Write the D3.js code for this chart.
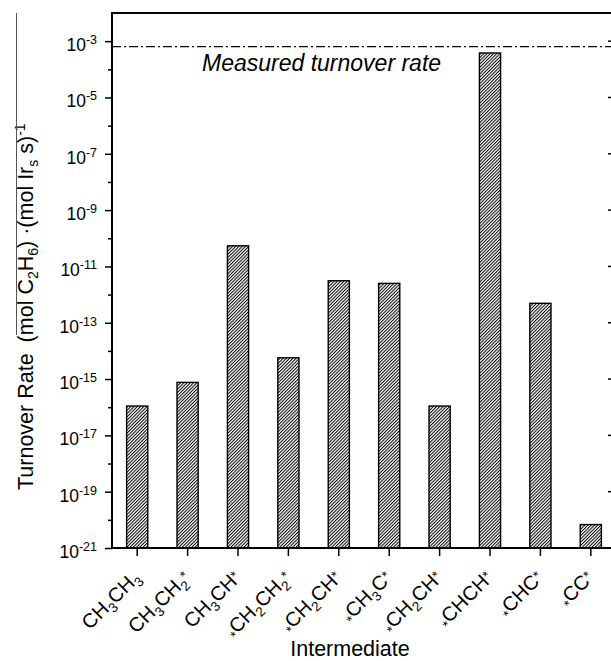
<!DOCTYPE html>
<html>
<head>
<meta charset="utf-8">
<script src="https://cdn.jsdelivr.net/npm/d3@7"></script>
<style>
  html, body { margin: 0; padding: 0; background: #fff; overflow: hidden; }
  svg { display: block; }
  svg text { font-family: Arial, "Liberation Sans", sans-serif; fill: #000; }
</style>
</head>
<body>
<svg id="chart" width="611" height="661"></svg>
<script>
// Intermediates along the x axis (digits become subscripts, '*' marks adsorption sites)
const categories = ["CH3CH3", "CH3CH2*", "CH3CH*", "*CH2CH2*", "*CH2CH*", "*CH3C*", "*CH2CH*", "*CHCH*", "*CHC*", "*CC*"];
// Turnover rate of each intermediate, (mol C2H6)(mol Ir_s s)^-1
const turnoverRates = [1.1e-16, 7.6e-16, 5.4e-11, 5.7e-15, 3.1e-12, 2.5e-12, 1.1e-16, 3.8e-4, 4.9e-13, 6.8e-21];
// Experimentally measured turnover rate (reference line)
const measuredRate = 6.4e-4;
// Labelled decades on the y axis (exponents) and unlabelled minor decades
const majorExponents = [-21, -19, -17, -15, -13, -11, -9, -7, -5, -3];
const minorExponents = [-20, -18, -16, -14, -12, -10, -8, -6, -4];

const svg = d3.select("#chart");
const plotLeft = 112, plotRight = 616, plotTop = 13, plotBottom = 548;
const edge = 611; // visible right edge of the drawing

const x = d3.scaleBand()
  .domain(categories.map((d, i) => i))
  .range([plotLeft, plotRight])
  .paddingInner(0.58)
  .paddingOuter(0.29);

const y = d3.scaleLog()
  .domain([1e-21, 1e-2])
  .range([plotBottom, plotTop]);

// Diagonal hatch fill for the bars
const defs = svg.append("defs");
defs.append("pattern")
  .attr("id", "hatch")
  .attr("patternUnits", "userSpaceOnUse")
  .attr("width", 2.3)
  .attr("height", 2.3)
  .attr("patternTransform", "rotate(45)")
  .call(p => {
    p.append("rect").attr("width", 2.3).attr("height", 2.3).attr("fill", "#fff");
    p.append("rect").attr("width", 1.0).attr("height", 2.3).attr("fill", "#000");
  });

// Bars
svg.append("g")
  .selectAll("rect")
  .data(turnoverRates)
  .join("rect")
  .attr("x", (d, i) => x(i))
  .attr("width", x.bandwidth())
  .attr("y", d => y(d))
  .attr("height", d => y(1e-21) - y(d))
  .attr("fill", "url(#hatch)")
  .attr("stroke", "#000")
  .attr("stroke-width", 1.4);

// Measured turnover rate reference line
svg.append("line")
  .attr("x1", plotLeft).attr("x2", edge)
  .attr("y1", y(measuredRate)).attr("y2", y(measuredRate))
  .attr("stroke", "#000")
  .attr("stroke-width", 1.3)
  .attr("stroke-dasharray", "9,3,2,3");

svg.append("text")
  .attr("x", 202)
  .attr("y", 71)
  .attr("font-size", 23)
  .attr("font-style", "italic")
  .text("Measured turnover rate");

// Left axis: major ticks (labelled) and minor ticks
const yMajor = d3.axisLeft(y)
  .tickValues(majorExponents.map(e => Math.pow(10, e)))
  .tickSize(7)
  .tickFormat("");
const gL = svg.append("g").attr("transform", `translate(${plotLeft},0)`).call(yMajor);
gL.select(".domain").remove();
gL.selectAll(".tick line").attr("stroke-width", 1.5);

const yMinor = d3.axisLeft(y)
  .tickValues(minorExponents.map(e => Math.pow(10, e)))
  .tickSize(4)
  .tickFormat("");
const gLm = svg.append("g").attr("transform", `translate(${plotLeft},0)`).call(yMinor);
gLm.select(".domain").remove();
gLm.selectAll(".tick line").attr("stroke-width", 1.5);

// Power-of-ten tick labels
const tickLabels = svg.append("g");
majorExponents.forEach(e => {
  const t = tickLabels.append("text")
    .attr("x", 97)
    .attr("y", y(Math.pow(10, e)) + 10)
    .attr("text-anchor", "end")
    .attr("font-size", 17.5);
  t.append("tspan").text("10");
  t.append("tspan").attr("dy", -7).attr("font-size", 12.5).text(String(e));
});

// Right side: inward major ticks
svg.append("g")
  .selectAll("line")
  .data(majorExponents)
  .join("line")
  .attr("x1", plotRight - 8).attr("x2", edge)
  .attr("y1", e => y(Math.pow(10, e))).attr("y2", e => y(Math.pow(10, e)))
  .attr("stroke", "#000")
  .attr("stroke-width", 1.5);

// Bottom axis ticks
const xAxis = d3.axisBottom(x).tickSize(8).tickSizeOuter(0).tickFormat("");
const gB = svg.append("g").attr("transform", `translate(0,${plotBottom})`).call(xAxis);
gB.select(".domain").remove();
gB.selectAll(".tick line").attr("stroke-width", 1.5);

// Frame: left, bottom and top edges
svg.append("line").attr("x1", plotLeft).attr("x2", plotLeft).attr("y1", plotTop - 1).attr("y2", plotBottom + 1)
  .attr("stroke", "#000").attr("stroke-width", 2);
svg.append("line").attr("x1", plotLeft - 1).attr("x2", edge).attr("y1", plotBottom).attr("y2", plotBottom)
  .attr("stroke", "#000").attr("stroke-width", 2);
svg.append("line").attr("x1", plotLeft - 1).attr("x2", edge).attr("y1", plotTop).attr("y2", plotTop)
  .attr("stroke", "#000").attr("stroke-width", 2);

// Chemical formula labels: digits as subscripts, '*' as small marks
function formulaParts(s) {
  const parts = [];
  for (let k = 0; k < s.length; k++) {
    const ch = s[k];
    if (/[0-9]/.test(ch)) parts.push({ t: ch, kind: "sub" });
    else if (ch === "*") parts.push({ t: ch, kind: k === 0 ? "lead" : "sup" });
    else parts.push({ t: ch, kind: "n" });
  }
  return parts;
}

const xLabels = svg.append("g");
categories.forEach((c, i) => {
  const cx = x(i) + x.bandwidth() / 2;
  const t = xLabels.append("text")
    .attr("text-anchor", "end")
    .attr("font-size", 20)
    .attr("transform", `translate(${cx + 4},${plotBottom + 31}) rotate(-45)`);
  let shift = 0;
  formulaParts(c).forEach(p => {
    let target = 0, size = 20;
    if (p.kind === "sub") { target = 5; size = 13.5; }
    else if (p.kind === "sup") { target = -3; size = 14; }
    else if (p.kind === "lead") { target = 4; size = 14; }
    const ts = t.append("tspan").attr("font-size", size).text(p.t);
    if (target !== shift) { ts.attr("dy", target - shift); shift = target; }
  });
});

// Axis titles
svg.append("text")
  .attr("x", 350)
  .attr("y", 656)
  .attr("text-anchor", "middle")
  .attr("font-size", 21.5)
  .text("Intermediate");

const yTitle = svg.append("text")
  .attr("transform", `translate(33,490) rotate(-90)`)
  .attr("font-size", 21.5);
yTitle.append("tspan").text("Turnover Rate");
yTitle.append("tspan").attr("dx", 11).text("(mol C");
yTitle.append("tspan").attr("dy", 5).attr("font-size", 14).text("2");
yTitle.append("tspan").attr("dy", -5).text("H");
yTitle.append("tspan").attr("dy", 5).attr("font-size", 14).text("6");
yTitle.append("tspan").attr("dy", -5).text(") \u00B7(mol Ir");
yTitle.append("tspan").attr("dy", 5).attr("font-size", 14).text("s");
yTitle.append("tspan").attr("dy", -5).text(" s)");
yTitle.append("tspan").attr("dy", -8).attr("font-size", 14).text("-1");

// Rule over the unit part of the y title
svg.append("line")
  .attr("x1", 16.5).attr("x2", 16.5)
  .attr("y1", plotTop).attr("y2", 335)
  .attr("stroke", "#555")
  .attr("stroke-width", 1);
</script>
</body>
</html>
